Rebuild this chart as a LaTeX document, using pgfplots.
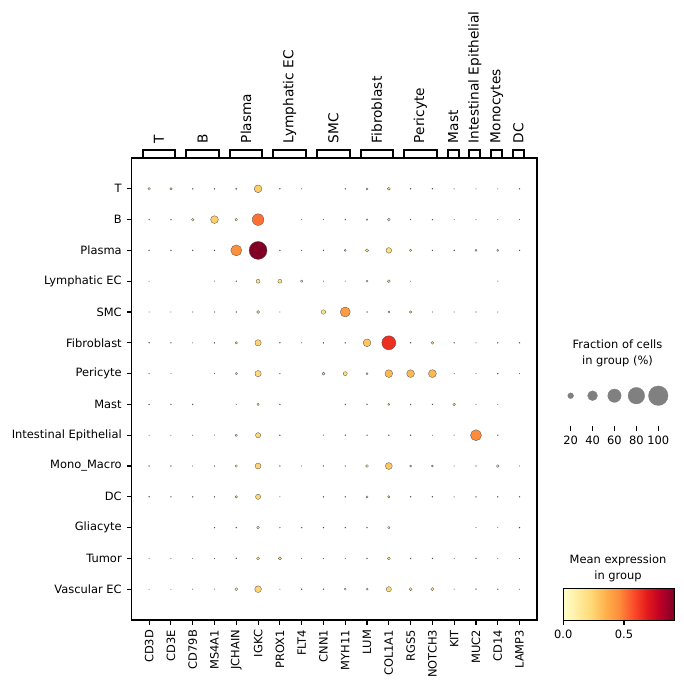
\documentclass[border=0pt]{standalone}
\usepackage{fontspec}
\setmainfont{DejaVu Sans}
\usepackage{pgfplots}
\usepackage{pgfplotstable}
\pgfplotsset{compat=1.18}
\pgfplotsset{colormap={ylorrd}{rgb255=(255,255,204) rgb255=(255,237,160) rgb255=(254,217,118) rgb255=(254,178,76) rgb255=(253,141,60) rgb255=(252,78,42) rgb255=(227,26,28) rgb255=(189,0,38) rgb255=(128,0,38)}}
\newcommand\tickfont{\fontsize{11.45}{13.7}\selectfont}
\newcommand\grpfont{\fontsize{13.7}{16}\selectfont}
\pgfplotstableread{
x y f c
0 0 7 0.15
1 0 6 0.12
2 0 2 0.05
3 0 2 0.05
4 0 3 0.06
5 0 29 0.27
6 0 2 0.05
7 0 1 0.03
9 0 2 0.05
10 0 5 0.07
11 0 8 0.17
12 0 2 0.05
13 0 2 0.05
14 0 1 0.03
15 0 1 0.03
16 0 1 0.03
17 0 2 0.05
0 1 2 0.05
1 1 2 0.03
2 1 7 0.15
3 1 29 0.26
4 1 7 0.12
5 1 50 0.51
7 1 1 0.03
8 1 1 0.03
9 1 2 0.05
10 1 4 0.06
11 1 7 0.12
12 1 2 0.03
13 1 2 0.03
14 1 1 0.03
15 1 1 0.03
16 1 1 0.03
17 1 1 0.03
0 2 2 0.05
1 2 2 0.05
2 2 2 0.05
3 2 2 0.05
4 2 46 0.45
5 2 89 0.915
6 2 2 0.05
7 2 1 0.03
8 2 2 0.05
9 2 5 0.07
10 2 9 0.18
11 2 19 0.2
12 2 6 0.1
13 2 2 0.05
14 2 2 0.05
15 2 5 0.07
16 2 5 0.07
17 2 2 0.05
0 3 1 0.03
3 3 1 0.03
4 3 2 0.05
5 3 12 0.16
6 3 12 0.16
7 3 6 0.06
8 3 1 0.03
9 3 1 0.03
10 3 5 0.07
11 3 8 0.13
12 3 1 0.03
16 3 1 0.03
0 4 1 0.03
1 4 1 0.03
2 4 1 0.03
3 4 1 0.03
4 4 2 0.05
5 4 8 0.12
6 4 1 0.03
8 4 14 0.16
9 4 41 0.41
10 4 2 0.05
11 4 5 0.07
12 4 6 0.08
13 4 1 0.03
14 4 1 0.03
15 4 1 0.03
16 4 1 0.03
0 5 2 0.05
1 5 2 0.05
2 5 1 0.03
3 5 2 0.05
4 5 6 0.07
5 5 22 0.24
6 5 2 0.05
7 5 1 0.03
8 5 2 0.05
9 5 2 0.05
10 5 29 0.29
11 5 64 0.64
12 5 2 0.05
13 5 7 0.16
14 5 2 0.05
15 5 1 0.03
16 5 2 0.05
17 5 2 0.05
0 6 1 0.03
1 6 1 0.03
3 6 1 0.03
4 6 6 0.07
5 6 22 0.23
6 6 2 0.05
8 6 8 0.15
9 6 12 0.18
10 6 5 0.07
11 6 29 0.33
12 6 29 0.33
13 6 30 0.33
14 6 1 0.03
15 6 1 0.03
16 6 2 0.05
17 6 1 0.03
0 7 2 0.05
1 7 2 0.05
2 7 2 0.05
4 7 1 0.03
5 7 6 0.07
6 7 2 0.05
9 7 2 0.05
10 7 2 0.05
11 7 5 0.1
12 7 2 0.05
13 7 2 0.05
14 7 7 0.13
15 7 1 0.03
16 7 1 0.03
0 8 1 0.03
1 8 1 0.03
2 8 1 0.03
3 8 1 0.03
4 8 6 0.05
5 8 17 0.23
6 8 2 0.05
8 8 1 0.03
9 8 2 0.05
10 8 2 0.05
11 8 2 0.05
12 8 2 0.05
13 8 1 0.03
14 8 1 0.03
15 8 46 0.46
16 8 2 0.05
0 9 2 0.05
1 9 2 0.05
2 9 1 0.03
3 9 2 0.05
4 9 6 0.06
5 9 20 0.24
6 9 2 0.05
7 9 1 0.03
8 9 2 0.05
9 9 2 0.05
10 9 8 0.15
11 9 25 0.28
12 9 5 0.06
13 9 5 0.06
14 9 1 0.03
15 9 2 0.05
16 9 7 0.08
17 9 1 0.03
0 10 2 0.05
1 10 2 0.05
2 10 2 0.05
3 10 2 0.05
4 10 6 0.06
5 10 17 0.23
6 10 1 0.03
8 10 2 0.05
9 10 2 0.05
10 10 5 0.06
11 10 6 0.1
12 10 2 0.05
13 10 2 0.05
14 10 1 0.03
15 10 2 0.05
16 10 2 0.05
17 10 2 0.05
3 11 2 0.05
4 11 2 0.05
5 11 7 0.12
6 11 2 0.05
7 11 2 0.05
8 11 2 0.05
9 11 2 0.05
10 11 2 0.05
11 11 6 0.1
15 11 1 0.03
16 11 1 0.03
17 11 2 0.05
0 12 1 0.03
1 12 1 0.03
2 12 1 0.03
3 12 1 0.03
4 12 2 0.05
5 12 8 0.15
6 12 9 0.17
7 12 1 0.03
8 12 1 0.03
9 12 1 0.03
10 12 2 0.05
11 12 8 0.13
12 12 2 0.05
13 12 2 0.05
14 12 1 0.03
15 12 2 0.05
16 12 1 0.03
17 12 1 0.03
0 13 1 0.03
1 13 1 0.03
2 13 1 0.03
3 13 1 0.03
4 13 8 0.1
5 13 24 0.24
6 13 1 0.03
7 13 2 0.05
8 13 2 0.05
9 13 5 0.06
10 13 5 0.06
11 13 17 0.22
12 13 9 0.15
13 13 9 0.15
14 13 1 0.03
15 13 2 0.05
16 13 2 0.05
17 13 1 0.03
}\dotdata
\pgfplotstableread{
f y
20 0
40 0
60 0
80 0
100 0
}\sizedata
\begin{document}
\begin{tikzpicture}
\path[use as bounding box] (0pt,0pt) rectangle (683pt,-688pt);
\begin{axis}[
  name=main,
  at={(131.7pt,-620pt)}, anchor=south west,
  scale only axis, width=405.3pt, height=462pt,
  xmin=-0.8, xmax=17.8, ymin=-1, ymax=14, y dir=reverse,
  xtick={0,...,17},
  xticklabels={CD3D,CD3E,CD79B,MS4A1,JCHAIN,IGKC,PROX1,FLT4,CNN1,MYH11,LUM,COL1A1,RGS5,NOTCH3,KIT,MUC2,CD14,LAMP3},
  ytick={0,...,13},
  yticklabels={T,B,Plasma,Lymphatic EC,SMC,Fibroblast,Pericyte,Mast,Intestinal Epithelial,Mono\_Macro,DC,Gliacyte,Tumor,Vascular EC},
  xtick pos=bottom, ytick pos=left,
  tick align=outside, major tick length=4.9pt,
  tick style={line width=1.1pt, black},
  axis line style={line width=1.1pt},
  xticklabel style={rotate=90, anchor=east, font=\tickfont, inner sep=0pt},
  yticklabel style={font=\tickfont, inner sep=0pt},
  xticklabel shift=4.9pt, yticklabel shift=4.9pt,
  clip=false,
  colormap name=ylorrd,
  point meta min=0, point meta max=0.915,
]
\addplot[scatter, only marks, mark=*, point meta=explicit,
  visualization depends on={9.8*(\thisrow{f}/100)^0.75 \as \msize},
  scatter/use mapped color={draw=black!70, fill=mapped color},
  scatter/@pre marker code/.append style={/tikz/mark size=\msize},
  mark options={line width=0.3pt}]
  table[x=x, y=y, meta=c] {\dotdata};
% gene group brackets
\draw[line width=2pt] (axis cs:-0.3,-1) -- (axis cs:-0.3,-1.26) -- (axis cs:1.2,-1.26) -- (axis cs:1.2,-1);
\draw[line width=2pt] (axis cs:1.7,-1) -- (axis cs:1.7,-1.26) -- (axis cs:3.2,-1.26) -- (axis cs:3.2,-1);
\draw[line width=2pt] (axis cs:3.7,-1) -- (axis cs:3.7,-1.26) -- (axis cs:5.2,-1.26) -- (axis cs:5.2,-1);
\draw[line width=2pt] (axis cs:5.7,-1) -- (axis cs:5.7,-1.26) -- (axis cs:7.2,-1.26) -- (axis cs:7.2,-1);
\draw[line width=2pt] (axis cs:7.7,-1) -- (axis cs:7.7,-1.26) -- (axis cs:9.2,-1.26) -- (axis cs:9.2,-1);
\draw[line width=2pt] (axis cs:9.7,-1) -- (axis cs:9.7,-1.26) -- (axis cs:11.2,-1.26) -- (axis cs:11.2,-1);
\draw[line width=2pt] (axis cs:11.7,-1) -- (axis cs:11.7,-1.26) -- (axis cs:13.2,-1.26) -- (axis cs:13.2,-1);
\draw[line width=2pt] (axis cs:13.7,-1) -- (axis cs:13.7,-1.26) -- (axis cs:14.2,-1.26) -- (axis cs:14.2,-1);
\draw[line width=2pt] (axis cs:14.7,-1) -- (axis cs:14.7,-1.26) -- (axis cs:15.2,-1.26) -- (axis cs:15.2,-1);
\draw[line width=2pt] (axis cs:15.7,-1) -- (axis cs:15.7,-1.26) -- (axis cs:16.2,-1.26) -- (axis cs:16.2,-1);
\draw[line width=2pt] (axis cs:16.7,-1) -- (axis cs:16.7,-1.26) -- (axis cs:17.2,-1.26) -- (axis cs:17.2,-1);
\node[rotate=90, anchor=west, inner sep=0pt, font=\grpfont] at (axis cs:0.45,-1.477) {T};
\node[rotate=90, anchor=west, inner sep=0pt, font=\grpfont] at (axis cs:2.45,-1.477) {B};
\node[rotate=90, anchor=west, inner sep=0pt, font=\grpfont] at (axis cs:4.45,-1.477) {Plasma};
\node[rotate=90, anchor=west, inner sep=0pt, font=\grpfont] at (axis cs:6.45,-1.477) {Lymphatic EC};
\node[rotate=90, anchor=west, inner sep=0pt, font=\grpfont] at (axis cs:8.45,-1.477) {SMC};
\node[rotate=90, anchor=west, inner sep=0pt, font=\grpfont] at (axis cs:10.45,-1.477) {Fibroblast};
\node[rotate=90, anchor=west, inner sep=0pt, font=\grpfont] at (axis cs:12.45,-1.477) {Pericyte};
\node[rotate=90, anchor=west, inner sep=0pt, font=\grpfont] at (axis cs:13.95,-1.477) {Mast};
\node[rotate=90, anchor=west, inner sep=0pt, font=\grpfont] at (axis cs:14.95,-1.477) {Intestinal Epithelial};
\node[rotate=90, anchor=west, inner sep=0pt, font=\grpfont] at (axis cs:15.95,-1.477) {Monocytes};
\node[rotate=90, anchor=west, inner sep=0pt, font=\grpfont] at (axis cs:16.95,-1.477) {DC};
\end{axis}
% size legend
\begin{axis}[
  at={(559.7pt,-426pt)}, anchor=south west,
  scale only axis, width=115pt, height=46pt,
  xmin=10, xmax=115, ymin=-1, ymax=0.518,
  hide y axis, axis x line*=bottom, x axis line style={draw=none},
  xtick={20,40,60,80,100},
  tick align=outside, major tick length=4.9pt,
  tick style={line width=1.1pt, black},
  xticklabel style={font=\tickfont, inner sep=0pt, /pgf/number format/assume math mode=true},
  xticklabel shift=4.9pt,
  clip=false,
]
\addplot[scatter, only marks, mark=*, point meta=explicit,
  visualization depends on={9.8*(\thisrow{f}/100)^0.75 \as \msize},
  scatter/use mapped color={draw=gray, fill=gray},
  scatter/@pre marker code/.append style={/tikz/mark size=\msize},
  mark options={line width=0.3pt}]
  table[x=f, y=y, meta=f] {\sizedata};
\end{axis}
% colour bar
\begin{axis}[
  at={(563.3pt,-620pt)}, anchor=south west,
  scale only axis, width=111pt, height=31.7pt,
  xmin=0, xmax=0.915, ymin=0, ymax=1,
  xtick={0,0.5}, ytick=\empty,
  xtick pos=bottom,
  tick align=outside, major tick length=4.9pt,
  tick style={line width=1.1pt, black},
  axis line style={line width=1pt},
  axis on top,
  xticklabel style={font=\tickfont, inner sep=0pt, /pgf/number format/.cd, fixed, fixed zerofill, precision=1, assume math mode=true},
  xticklabel shift=4.9pt,
  colormap name=ylorrd,
  point meta min=0, point meta max=0.915,
]
\addplot[surf, shader=interp, mesh/rows=2, point meta=x] coordinates {
(0,0) (0.114375,0) (0.22875,0) (0.343125,0) (0.4575,0) (0.571875,0) (0.68625,0) (0.800625,0) (0.915,0)

(0,1) (0.114375,1) (0.22875,1) (0.343125,1) (0.4575,1) (0.571875,1) (0.68625,1) (0.800625,1) (0.915,1)
};
\end{axis}
\node[align=center, font=\fontsize{11.45}{15.7}\selectfont] at (617.5pt,-353pt) {Fraction of cells\\in group (\%)};
\node[align=center, font=\fontsize{11.45}{15.7}\selectfont] at (618pt,-568pt) {Mean expression\\in group};
\end{tikzpicture}
\end{document}
